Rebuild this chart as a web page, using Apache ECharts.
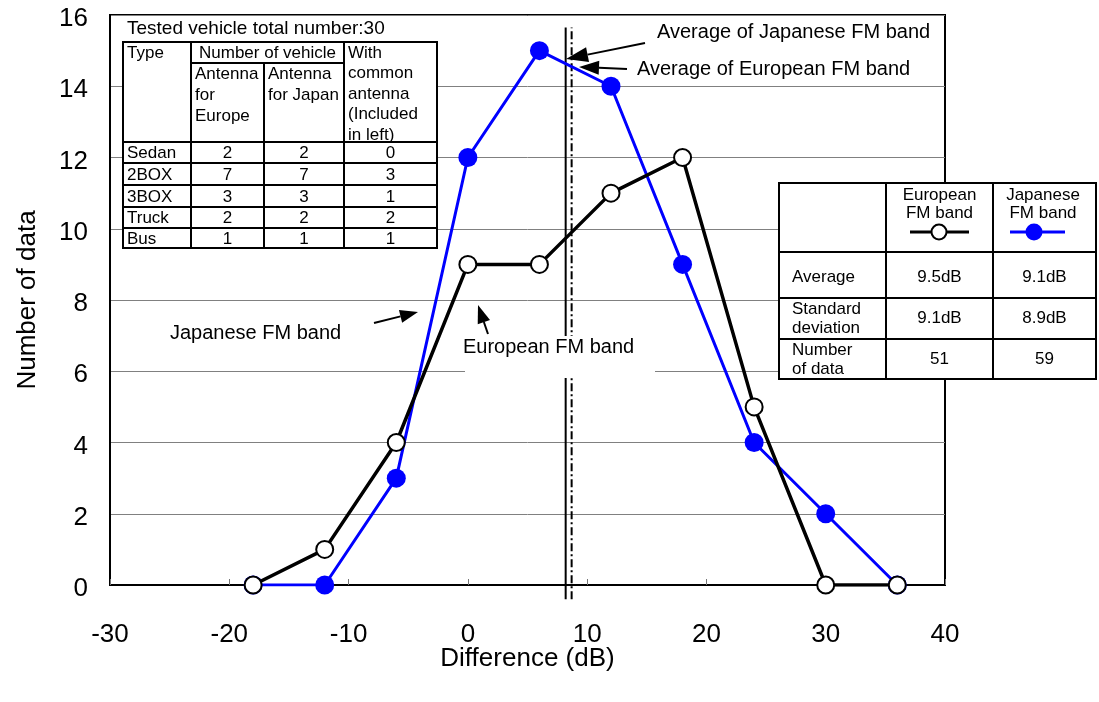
<!DOCTYPE html>
<html><head><meta charset="utf-8">
<script src="https://cdn.jsdelivr.net/npm/echarts@6/dist/echarts.min.js"></script>
<style>html,body{margin:0;padding:0;background:#fff}#c{width:1099px;height:702px}</style>
</head><body><div id="c"></div>
<script>
// ---- data ----
const xValues = [-18, -12, -6, 0, 6, 12, 18, 24, 30, 36];
const europeanCounts = [0, 1, 4, 9, 9, 11, 12, 5, 0, 0];
const japaneseCounts = [0, 0, 3, 12, 15, 14, 9, 4, 2, 0];
const xAxisRange = [-30, 40, 10];
const yAxisRange = [0, 16, 2];
const avgJapaneseLineX = 8.2;   // solid line as drawn
const avgEuropeanLineX = 8.7;   // dash-dot line as drawn
const avgLineYSpan = [-0.4, 15.65];

const vehicleTitle = 'Tested vehicle total number:30';
const vehicleTypes = ['Sedan', '2BOX', '3BOX', 'Truck', 'Bus'];
const antennaEurope = [2, 7, 3, 2, 1];
const antennaJapan = [2, 7, 3, 2, 1];
const commonAntenna = [0, 3, 1, 2, 1];

const statLabels = ['Average', 'Standard\ndeviation', 'Number\nof data'];
const europeanStats = ['9.5dB', '9.1dB', '51'];
const japaneseStats = ['9.1dB', '8.9dB', '59'];

// ---- drawing ----
const F = '"Liberation Sans", Arial, sans-serif';
const chart = echarts.init(document.getElementById('c'));
const G = [];
const Z = 20;
function rect(x, y, w, h, stroke, lw) {
  G.push({type: 'rect', z: Z, shape: {x, y, width: w, height: h},
    style: {fill: '#fff', stroke: stroke || null, lineWidth: lw || 0}});
}
function line(x1, y1, x2, y2, color, lw) {
  G.push({type: 'line', z: Z + 1, shape: {x1, y1, x2, y2},
    style: {stroke: color || '#000', lineWidth: lw || 2}});
}
function text(x, y, s, size, align, lh) {
  G.push({type: 'text', z: Z + 2, x, y,
    style: {text: s, fontSize: size, fontFamily: F, fill: '#000', textAlign: align || 'left',
      verticalAlign: 'middle', textVerticalAlign: 'middle', lineHeight: lh || Math.round(size * 1.15)}});
}
function arrow(x1, y1, x2, y2, hl, hw) {
  const dx = x2 - x1, dy = y2 - y1, L = Math.hypot(dx, dy);
  const ux = dx / L, uy = dy / L;
  const bx = x2 - ux * hl, by = y2 - uy * hl;
  line(x1, y1, bx, by, '#000', 2);
  G.push({type: 'polygon', z: Z + 1, shape: {points: [[x2, y2],
    [bx - uy * hw / 2, by + ux * hw / 2], [bx + uy * hw / 2, by - ux * hw / 2]]},
    style: {fill: '#000'}});
}

// vehicle table
text(127, 29, vehicleTitle, 19, 'left');
rect(123, 42, 314, 206, '#000', 2);
const colX = [123, 191, 264, 344, 437];
line(191, 42, 191, 248); line(264, 63, 264, 248); line(344, 42, 344, 248);
line(191, 63, 344, 63);
const rowY = [142, 163, 185, 207, 228, 248];
for (let i = 0; i < 5; i++) line(123, rowY[i], 437, rowY[i]);
text(127, 53, 'Type', 17, 'left');
text(267.5, 53, 'Number of vehicle', 17, 'center');
G.push({type: 'text', z: Z + 2, x: 195, y: 64, style: {text: 'Antenna\nfor\nEurope', fontSize: 17, fontFamily: F, fill: '#000', lineHeight: 21}});
G.push({type: 'text', z: Z + 2, x: 268, y: 64, style: {text: 'Antenna\nfor Japan', fontSize: 17, fontFamily: F, fill: '#000', lineHeight: 21}});
G.push({type: 'text', z: Z + 2, x: 348, y: 43, style: {text: 'With\ncommon\nantenna\n(Included\nin left)', fontSize: 17, fontFamily: F, fill: '#000', lineHeight: 20.5}});
for (let i = 0; i < vehicleTypes.length; i++) {
  const cy = (rowY[i] + rowY[i + 1]) / 2 + 1;
  text(127, cy, vehicleTypes[i], 17, 'left');
  text((colX[1] + colX[2]) / 2, cy, String(antennaEurope[i]), 17, 'center');
  text((colX[2] + colX[3]) / 2, cy, String(antennaJapan[i]), 17, 'center');
  text((colX[3] + colX[4]) / 2, cy, String(commonAntenna[i]), 17, 'center');
}

// stats table
rect(779, 183, 317, 196, '#000', 2);
line(886, 183, 886, 379); line(993, 183, 993, 379);
line(779, 252, 1096, 252); line(779, 298, 1096, 298); line(779, 339, 1096, 339);
text(939.5, 204, 'European\nFM band', 17, 'center', 18);
text(1043, 204, 'Japanese\nFM band', 17, 'center', 18);
line(910, 232, 969, 232, '#000', 3);
G.push({type: 'circle', z: Z + 2, shape: {cx: 939, cy: 232, r: 7.5}, style: {fill: '#fff', stroke: '#000', lineWidth: 2}});
line(1010, 232, 1065, 232, '#0000ff', 3);
G.push({type: 'circle', z: Z + 2, shape: {cx: 1034, cy: 232, r: 8.5}, style: {fill: '#0000ff'}});
const statRowY = [277, 318.5, 359.5];
for (let i = 0; i < statLabels.length; i++) {
  text(792, statRowY[i], statLabels[i], 17, 'left', 19);
  text(939.5, statRowY[i], europeanStats[i], 17, 'center');
  text(1044.5, statRowY[i], japaneseStats[i], 17, 'center');
}

// annotations
text(657, 32, 'Average of Japanese FM band', 20, 'left');
arrow(645, 43, 566, 59, 22, 15);
text(637, 69, 'Average of European FM band', 20, 'left');
arrow(627, 69, 579, 67, 20, 14);
text(170, 333, 'Japanese FM band', 20, 'left');
arrow(374, 323, 418, 312, 18, 13);
rect(465, 336, 190, 42);
text(463, 347, 'European FM band', 20, 'left');
arrow(488, 334, 478, 305, 18, 13);

chart.setOption({
  animation: false,
  grid: {left: 110, right: 154, top: 15, bottom: 117, show: true, borderColor: '#000', borderWidth: 2},
  xAxis: {
    type: 'value', min: xAxisRange[0], max: xAxisRange[1], interval: xAxisRange[2],
    name: 'Difference (dB)', nameLocation: 'middle', nameGap: 61, nameMoveOverlap: false,
    nameTextStyle: {fontSize: 26, fontFamily: F, color: '#000'},
    axisLine: {onZero: false, lineStyle: {color: '#000', width: 2}},
    axisTick: {inside: true, length: 6, lineStyle: {color: '#777', width: 1}},
    axisLabel: {fontSize: 26, fontFamily: F, color: '#000', margin: 37},
    splitLine: {show: false}
  },
  yAxis: {
    type: 'value', min: yAxisRange[0], max: yAxisRange[1], interval: yAxisRange[2],
    name: 'Number of data', nameLocation: 'middle', nameGap: 69,
    nameTextStyle: {fontSize: 26, fontFamily: F, color: '#000'},
    axisLine: {show: true, onZero: false, lineStyle: {color: '#000', width: 2}},
    axisTick: {show: false},
    axisLabel: {fontSize: 26, fontFamily: F, color: '#000', margin: 22,
      formatter: v => '{a|' + v + '}',
      rich: {a: {fontSize: 26, fontFamily: F, color: '#000', padding: [8, 0, 0, 0]}}},
    splitLine: {show: true, lineStyle: {color: '#808080', width: 1}}
  },
  series: [
    {type: 'line', name: 'avgJapanese', clip: false, symbol: 'none', z: 1, silent: true,
      data: avgLineYSpan.map(y => [avgJapaneseLineX, y]),
      lineStyle: {color: '#000', width: 2}},
    {type: 'line', name: 'avgEuropean', clip: false, symbol: 'none', z: 1, silent: true,
      data: avgLineYSpan.map(y => [avgEuropeanLineX, y]),
      lineStyle: {color: '#000', width: 2, type: [8, 3, 2, 3]}},
    {type: 'line', name: 'Japanese FM band', z: 3,
      data: xValues.map((x, i) => [x, japaneseCounts[i]]),
      symbol: 'circle', symbolSize: 19, showAllSymbol: true,
      lineStyle: {color: '#0000ff', width: 3},
      itemStyle: {color: '#0000ff', borderWidth: 0}},
    {type: 'line', name: 'European FM band', z: 4,
      data: xValues.map((x, i) => [x, europeanCounts[i]]),
      symbol: 'circle', symbolSize: 17, showAllSymbol: true,
      lineStyle: {color: '#000', width: 3.5},
      itemStyle: {color: '#fff', borderColor: '#000', borderWidth: 2}}
  ],
  graphic: G
});
</script></body></html>
